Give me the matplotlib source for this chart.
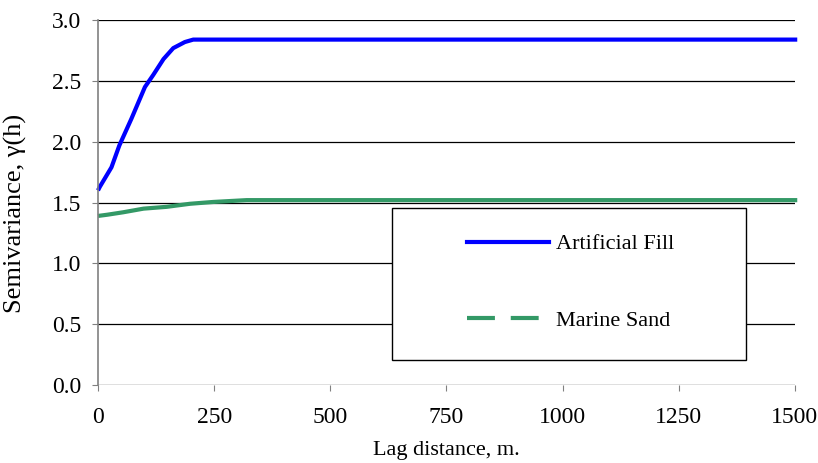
import matplotlib
matplotlib.use("Agg")
import matplotlib.pyplot as plt
from matplotlib.lines import Line2D
from matplotlib.patches import Rectangle

# values
fill_lag = [0, 4, 29, 46, 72, 101, 119, 141, 162, 187, 205, 1505]
fill_gamma = [1.60, 1.63, 1.79, 1.97, 2.19, 2.45, 2.55, 2.68, 2.77, 2.82, 2.84, 2.84]

sand_lag = [0, 20, 54, 98, 148, 198, 248, 320, 1505]
sand_gamma = [1.39, 1.40, 1.42, 1.45, 1.465, 1.49, 1.505, 1.52, 1.52]

x_ticks = [0, 250, 500, 750, 1000, 1250, 1500]
y_ticks = [0.0, 0.5, 1.0, 1.5, 2.0, 2.5, 3.0]

plt.rcParams["font.family"] = ["Liberation Serif", "DejaVu Serif"]
plt.rcParams["font.size"] = 16

fig = plt.figure(figsize=(8.18, 4.63), dpi=100)
ax = fig.add_axes([0.1198, 0.1685, 0.852, 0.788])

blue = "#0000FF"
green = "#339966"

ax.plot(fill_lag, fill_gamma, color=blue, lw=3, solid_capstyle="butt", clip_on=False)
ax.plot(sand_lag, sand_gamma, color=green, lw=3, solid_capstyle="butt", clip_on=False)

ax.set_xlim(0, 1500)
ax.set_ylim(0, 3.0)
ax.set_xticks(x_ticks)
ax.set_yticks(y_ticks)
ax.set_yticklabels([f"{v:.1f}" for v in y_ticks])

for y in y_ticks:
    ax.axhline(y, color="black", lw=0.9, zorder=0)

for s in ["top", "right", "bottom"]:
    ax.spines[s].set_visible(False)
ax.spines["left"].set_color("#808080")
ax.spines["left"].set_linewidth(1.2)

ax.tick_params(axis="x", direction="out", length=4, color="#808080", pad=12, labelsize=17)
ax.tick_params(axis="y", direction="out", length=4, color="#808080", pad=8, labelsize=17)

ax.set_xlabel("Lag distance, m.", labelpad=9)
ax.set_ylabel("Semivariance, γ(h)", fontsize=19)
ax.yaxis.set_label_coords(-0.102, 0.47)

# legend box drawn separately so its size matches the reference
ax.add_patch(Rectangle((0.422, 0.0685), 0.508, 0.416, transform=ax.transAxes,
                       facecolor="white", edgecolor="black", lw=1.0, zorder=5))

handles = [
    Line2D([], [], color=blue, lw=3),
    Line2D([], [], color=green, lw=3, dashes=(6.7, 3.8)),
]
leg = ax.legend(handles, ["Artificial Fill", "Marine Sand"], loc="upper left",
                bbox_to_anchor=(0.529, 0.414), frameon=False, borderpad=0,
                borderaxespad=0, handlelength=3.7, handletextpad=0.3,
                labelspacing=2.52)
leg.set_zorder(6)

fig.savefig("out.png", dpi=100)
